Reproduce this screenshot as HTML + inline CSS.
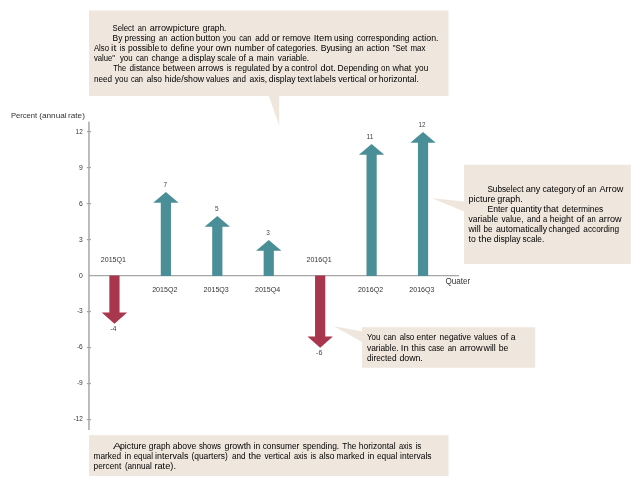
<!DOCTYPE html>
<html><head><meta charset="utf-8"><title>Arrow picture graph</title>
<style>
html,body{margin:0;padding:0;background:#fff;}
body{width:640px;height:486px;overflow:hidden;}
svg{display:block;}
text{font-family:"Liberation Sans","DejaVu Sans",sans-serif;}
.t{font-size:9.6px;fill:#000;}
.l{font-size:7.4px;fill:#333;}
.a{font-size:7.4px;fill:#333;}
.v{font-size:7.4px;fill:#444;}
</style></head><body>
<svg width="640" height="486" viewBox="0 0 640 486">
<rect width="640" height="486" fill="#fff"/>
<path d="M89 10.6H448.5V96H279.2V125.5L268.8 96H89Z" fill="#EFE6DD"/>
<path d="M464 164.7H630.8V264H464V211.5L432 198.3L464 201.5Z" fill="#EFE6DD"/>
<path d="M362 327.2H535.2V367.8H362V342L333.5 326L362 331.5Z" fill="#EFE6DD"/>
<rect x="89" y="435.2" width="359.5" height="40.8" fill="#EFE6DD"/>
<path d="M88.95 121.7V430" stroke="#BABABA" stroke-width="1.9" fill="none"/>
<path d="M88.8 275.7H459" stroke="#A6A6A6" stroke-width="1.3" fill="none"/>
<path d="M86.8 419.6H91" stroke="#A2A2A2" stroke-width="1.1" fill="none"/>
<text class="a" x="73.4" y="421.0" textLength="9.4" lengthAdjust="spacingAndGlyphs">-12</text>
<path d="M86.8 383.6H91" stroke="#A2A2A2" stroke-width="1.1" fill="none"/>
<text class="a" x="76.9" y="385.0" textLength="5.9" lengthAdjust="spacingAndGlyphs">-9</text>
<path d="M86.8 347.6H91" stroke="#A2A2A2" stroke-width="1.1" fill="none"/>
<text class="a" x="76.9" y="349.0" textLength="5.9" lengthAdjust="spacingAndGlyphs">-6</text>
<path d="M86.8 311.6H91" stroke="#A2A2A2" stroke-width="1.1" fill="none"/>
<text class="a" x="76.9" y="313.0" textLength="5.9" lengthAdjust="spacingAndGlyphs">-3</text>
<text class="a" x="79.0" y="277.7" textLength="3.8" lengthAdjust="spacingAndGlyphs">0</text>
<path d="M86.8 239.6H91" stroke="#A2A2A2" stroke-width="1.1" fill="none"/>
<text class="a" x="79.0" y="241.7" textLength="3.8" lengthAdjust="spacingAndGlyphs">3</text>
<path d="M86.8 203.6H91" stroke="#A2A2A2" stroke-width="1.1" fill="none"/>
<text class="a" x="79.0" y="205.7" textLength="3.8" lengthAdjust="spacingAndGlyphs">6</text>
<path d="M86.8 167.6H91" stroke="#A2A2A2" stroke-width="1.1" fill="none"/>
<text class="a" x="79.0" y="169.7" textLength="3.8" lengthAdjust="spacingAndGlyphs">9</text>
<path d="M86.8 131.6H91" stroke="#A2A2A2" stroke-width="1.1" fill="none"/>
<text class="a" x="75.6" y="133.7" textLength="7.2" lengthAdjust="spacingAndGlyphs">12</text>
<text class="l" y="117.8" style="font-size:8px"><tspan x="10.9" textLength="26.2" lengthAdjust="spacingAndGlyphs">Percent</tspan> <tspan x="39.2" textLength="27.4" lengthAdjust="spacingAndGlyphs">(annual</tspan> <tspan x="68" textLength="16.9" lengthAdjust="spacingAndGlyphs">rate)</tspan></text>
<text class="l" x="445.5" y="284.1" textLength="24.8" lengthAdjust="spacingAndGlyphs" style="font-size:8.5px">Quater</text>
<path d="M109.35 275.4V312.5H101.75L114.45 323.7L127.15 312.5H119.55V275.4Z" fill="#A8364C"/>
<text class="v" x="110.2" y="331.4" textLength="6.4" lengthAdjust="spacingAndGlyphs">-4</text>
<text class="l" x="100.8" y="262" textLength="25.2" lengthAdjust="spacingAndGlyphs">2015Q1</text>
<path d="M160.78 275.9V202.8H153.18L165.88 192.0L178.58 202.8H170.98V275.9Z" fill="#4A8F97"/>
<text class="v" x="163.5" y="187.0" textLength="3.6" lengthAdjust="spacingAndGlyphs">7</text>
<text class="l" x="152.2" y="292.1" textLength="25.2" lengthAdjust="spacingAndGlyphs">2015Q2</text>
<path d="M212.21 275.9V226.8H204.61L217.31 216.0L230.01 226.8H222.41V275.9Z" fill="#4A8F97"/>
<text class="v" x="214.9" y="211.0" textLength="3.6" lengthAdjust="spacingAndGlyphs">5</text>
<text class="l" x="203.6" y="292.1" textLength="25.2" lengthAdjust="spacingAndGlyphs">2015Q3</text>
<path d="M263.64 275.9V250.8H256.04L268.74 240.0L281.44 250.8H273.84V275.9Z" fill="#4A8F97"/>
<text class="v" x="266.3" y="235.0" textLength="3.6" lengthAdjust="spacingAndGlyphs">3</text>
<text class="l" x="255.0" y="292.1" textLength="25.2" lengthAdjust="spacingAndGlyphs">2015Q4</text>
<path d="M315.07 275.4V336.5H307.47L320.17 347.7L332.87 336.5H325.27V275.4Z" fill="#A8364C"/>
<text class="v" x="316.0" y="355.4" textLength="6.4" lengthAdjust="spacingAndGlyphs">-6</text>
<text class="l" x="306.5" y="262" textLength="25.2" lengthAdjust="spacingAndGlyphs">2016Q1</text>
<path d="M366.50 275.9V154.8H358.90L371.60 144.0L384.30 154.8H376.70V275.9Z" fill="#4A8F97"/>
<text class="v" x="366.4" y="139.0" textLength="7.0" lengthAdjust="spacingAndGlyphs">11</text>
<text class="l" x="357.9" y="292.1" textLength="25.2" lengthAdjust="spacingAndGlyphs">2016Q2</text>
<path d="M417.93 275.9V142.8H410.33L423.03 132.0L435.73 142.8H428.13V275.9Z" fill="#4A8F97"/>
<text class="v" x="418.5" y="127.0" textLength="7.0" lengthAdjust="spacingAndGlyphs">12</text>
<text class="l" x="409.3" y="292.1" textLength="25.2" lengthAdjust="spacingAndGlyphs">2016Q3</text>
<text class="t" y="31.0"><tspan x="112.5" textLength="21.7" lengthAdjust="spacingAndGlyphs">Select</tspan> <tspan x="137.8" textLength="8.3" lengthAdjust="spacingAndGlyphs">an</tspan> <tspan x="149.8" textLength="22.7" lengthAdjust="spacingAndGlyphs">arrow</tspan> <tspan x="172.8" textLength="26.6" lengthAdjust="spacingAndGlyphs">picture</tspan> <tspan x="202.8" textLength="23.5" lengthAdjust="spacingAndGlyphs">graph.</tspan></text>
<text class="t" y="41.0"><tspan x="112.5" textLength="9.9" lengthAdjust="spacingAndGlyphs">By</tspan> <tspan x="124.6" textLength="30.8" lengthAdjust="spacingAndGlyphs">pressing</tspan> <tspan x="159.0" textLength="8.4" lengthAdjust="spacingAndGlyphs">an</tspan> <tspan x="170.7" textLength="23.5" lengthAdjust="spacingAndGlyphs">action</tspan> <tspan x="195.7" textLength="24.5" lengthAdjust="spacingAndGlyphs">button</tspan> <tspan x="222.9" textLength="12.8" lengthAdjust="spacingAndGlyphs">you</tspan> <tspan x="239.3" textLength="12.3" lengthAdjust="spacingAndGlyphs">can</tspan> <tspan x="255.2" textLength="13.8" lengthAdjust="spacingAndGlyphs">add</tspan> <tspan x="271.5" textLength="8.3" lengthAdjust="spacingAndGlyphs">or</tspan> <tspan x="282.3" textLength="28.5" lengthAdjust="spacingAndGlyphs">remove</tspan> <tspan x="313.7" textLength="18.4" lengthAdjust="spacingAndGlyphs">Item</tspan> <tspan x="333.9" textLength="19.5" lengthAdjust="spacingAndGlyphs">using</tspan> <tspan x="356.8" textLength="52.6" lengthAdjust="spacingAndGlyphs">corresponding</tspan> <tspan x="412.6" textLength="25.9" lengthAdjust="spacingAndGlyphs">action.</tspan></text>
<text class="t" y="51.0"><tspan x="93.9" textLength="15.1" lengthAdjust="spacingAndGlyphs">Also</tspan> <tspan x="111.1" textLength="5.2" lengthAdjust="spacingAndGlyphs">it</tspan> <tspan x="119.7" textLength="5.5" lengthAdjust="spacingAndGlyphs">is</tspan> <tspan x="128.0" textLength="31.2" lengthAdjust="spacingAndGlyphs">possible</tspan> <tspan x="160.7" textLength="6.7" lengthAdjust="spacingAndGlyphs">to</tspan> <tspan x="170.7" textLength="23.5" lengthAdjust="spacingAndGlyphs">define</tspan> <tspan x="196.8" textLength="16.4" lengthAdjust="spacingAndGlyphs">your</tspan> <tspan x="215.4" textLength="16.1" lengthAdjust="spacingAndGlyphs">own</tspan> <tspan x="234.7" textLength="29.7" lengthAdjust="spacingAndGlyphs">number</tspan> <tspan x="266.9" textLength="7.6" lengthAdjust="spacingAndGlyphs">of</tspan> <tspan x="276.4" textLength="41.4" lengthAdjust="spacingAndGlyphs">categories.</tspan> <tspan x="320.7" textLength="10.0" lengthAdjust="spacingAndGlyphs">By</tspan> <tspan x="330.3" textLength="21.7" lengthAdjust="spacingAndGlyphs">using</tspan> <tspan x="354.9" textLength="8.7" lengthAdjust="spacingAndGlyphs">an</tspan> <tspan x="366.6" textLength="22.7" lengthAdjust="spacingAndGlyphs">action</tspan> <tspan x="392.7" textLength="14.6" lengthAdjust="spacingAndGlyphs">&quot;Set</tspan> <tspan x="410.5" textLength="14.9" lengthAdjust="spacingAndGlyphs">max</tspan></text>
<text class="t" y="61.0"><tspan x="93.9" textLength="21.0" lengthAdjust="spacingAndGlyphs">value&quot;</tspan> <tspan x="119.9" textLength="12.6" lengthAdjust="spacingAndGlyphs">you</tspan> <tspan x="136.1" textLength="12.1" lengthAdjust="spacingAndGlyphs">can</tspan> <tspan x="151.6" textLength="27.4" lengthAdjust="spacingAndGlyphs">change</tspan> <tspan x="182.1" textLength="5.1" lengthAdjust="spacingAndGlyphs">a</tspan> <tspan x="188.7" textLength="26.6" lengthAdjust="spacingAndGlyphs">display</tspan> <tspan x="217.2" textLength="18.9" lengthAdjust="spacingAndGlyphs">scale</tspan> <tspan x="238.6" textLength="7.4" lengthAdjust="spacingAndGlyphs">of</tspan> <tspan x="248.5" textLength="5.0" lengthAdjust="spacingAndGlyphs">a</tspan> <tspan x="256.7" textLength="17.2" lengthAdjust="spacingAndGlyphs">main</tspan> <tspan x="277.8" textLength="31.3" lengthAdjust="spacingAndGlyphs">variable.</tspan></text>
<text class="t" y="71.0"><tspan x="113.3" textLength="12.9" lengthAdjust="spacingAndGlyphs">The</tspan> <tspan x="129.5" textLength="30.7" lengthAdjust="spacingAndGlyphs">distance</tspan> <tspan x="162.8" textLength="32.5" lengthAdjust="spacingAndGlyphs">between</tspan> <tspan x="197.8" textLength="25.7" lengthAdjust="spacingAndGlyphs">arrows</tspan> <tspan x="226.7" textLength="4.8" lengthAdjust="spacingAndGlyphs">is</tspan> <tspan x="234.7" textLength="35.3" lengthAdjust="spacingAndGlyphs">regulated</tspan> <tspan x="272.2" textLength="10.4" lengthAdjust="spacingAndGlyphs">by</tspan> <tspan x="284.6" textLength="4.8" lengthAdjust="spacingAndGlyphs">a</tspan> <tspan x="291.2" textLength="25.9" lengthAdjust="spacingAndGlyphs">control</tspan> <tspan x="320.4" textLength="15.4" lengthAdjust="spacingAndGlyphs">dot.</tspan> <tspan x="337.6" textLength="40.9" lengthAdjust="spacingAndGlyphs">Depending</tspan> <tspan x="381.0" textLength="8.8" lengthAdjust="spacingAndGlyphs">on</tspan> <tspan x="392.5" textLength="18.8" lengthAdjust="spacingAndGlyphs">what</tspan> <tspan x="415.0" textLength="13.2" lengthAdjust="spacingAndGlyphs">you</tspan></text>
<text class="t" y="82.0"><tspan x="93.9" textLength="18.2" lengthAdjust="spacingAndGlyphs">need</tspan> <tspan x="115.0" textLength="13.0" lengthAdjust="spacingAndGlyphs">you</tspan> <tspan x="130.9" textLength="12.1" lengthAdjust="spacingAndGlyphs">can</tspan> <tspan x="146.7" textLength="15.3" lengthAdjust="spacingAndGlyphs">also</tspan> <tspan x="164.7" textLength="39.4" lengthAdjust="spacingAndGlyphs">hide/show</tspan> <tspan x="206.0" textLength="23.4" lengthAdjust="spacingAndGlyphs">values</tspan> <tspan x="232.7" textLength="13.3" lengthAdjust="spacingAndGlyphs">and</tspan> <tspan x="249.6" textLength="17.6" lengthAdjust="spacingAndGlyphs">axis,</tspan> <tspan x="268.7" textLength="26.9" lengthAdjust="spacingAndGlyphs">display</tspan> <tspan x="297.5" textLength="14.7" lengthAdjust="spacingAndGlyphs">text</tspan> <tspan x="313.7" textLength="22.3" lengthAdjust="spacingAndGlyphs">labels</tspan> <tspan x="338.2" textLength="27.9" lengthAdjust="spacingAndGlyphs">vertical</tspan> <tspan x="368.6" textLength="8.6" lengthAdjust="spacingAndGlyphs">or</tspan> <tspan x="378.8" textLength="40.0" lengthAdjust="spacingAndGlyphs">horizontal.</tspan></text>
<text class="t" y="192.0"><tspan x="487.4" textLength="36.1" lengthAdjust="spacingAndGlyphs">Subselect</tspan> <tspan x="525.7" textLength="14.7" lengthAdjust="spacingAndGlyphs">any</tspan> <tspan x="542.5" textLength="33.0" lengthAdjust="spacingAndGlyphs">category</tspan> <tspan x="577.0" textLength="8.0" lengthAdjust="spacingAndGlyphs">of</tspan> <tspan x="587.5" textLength="8.8" lengthAdjust="spacingAndGlyphs">an</tspan> <tspan x="599.5" textLength="23.8" lengthAdjust="spacingAndGlyphs">Arrow</tspan></text>
<text class="t" y="202.0"><tspan x="468.5" textLength="26.9" lengthAdjust="spacingAndGlyphs">picture</tspan> <tspan x="497.3" textLength="25.5" lengthAdjust="spacingAndGlyphs">graph.</tspan></text>
<text class="t" y="212.0"><tspan x="487.4" textLength="20.6" lengthAdjust="spacingAndGlyphs">Enter</tspan> <tspan x="510.6" textLength="31.2" lengthAdjust="spacingAndGlyphs">quantity</tspan> <tspan x="543.5" textLength="15.1" lengthAdjust="spacingAndGlyphs">that</tspan> <tspan x="561.9" textLength="41.4" lengthAdjust="spacingAndGlyphs">determines</tspan></text>
<text class="t" y="222.0"><tspan x="468.5" textLength="29.7" lengthAdjust="spacingAndGlyphs">variable</tspan> <tspan x="501.5" textLength="22.0" lengthAdjust="spacingAndGlyphs">value,</tspan> <tspan x="527.1" textLength="13.3" lengthAdjust="spacingAndGlyphs">and</tspan> <tspan x="543.1" textLength="4.2" lengthAdjust="spacingAndGlyphs">a</tspan> <tspan x="549.7" textLength="23.6" lengthAdjust="spacingAndGlyphs">height</tspan> <tspan x="576.3" textLength="8.0" lengthAdjust="spacingAndGlyphs">of</tspan> <tspan x="587.2" textLength="8.4" lengthAdjust="spacingAndGlyphs">an</tspan> <tspan x="598.8" textLength="22.8" lengthAdjust="spacingAndGlyphs">arrow</tspan></text>
<text class="t" y="232.0"><tspan x="468.5" textLength="12.1" lengthAdjust="spacingAndGlyphs">will</tspan> <tspan x="483.5" textLength="9.0" lengthAdjust="spacingAndGlyphs">be</tspan> <tspan x="495.9" textLength="51.3" lengthAdjust="spacingAndGlyphs">automatically</tspan> <tspan x="548.5" textLength="31.4" lengthAdjust="spacingAndGlyphs">changed</tspan> <tspan x="583.3" textLength="35.8" lengthAdjust="spacingAndGlyphs">according</tspan></text>
<text class="t" y="242.0"><tspan x="468.5" textLength="7.2" lengthAdjust="spacingAndGlyphs">to</tspan> <tspan x="478.6" textLength="13.0" lengthAdjust="spacingAndGlyphs">the</tspan> <tspan x="493.8" textLength="26.9" lengthAdjust="spacingAndGlyphs">display</tspan> <tspan x="522.6" textLength="21.7" lengthAdjust="spacingAndGlyphs">scale.</tspan></text>
<text class="t" y="340.0"><tspan x="367.0" textLength="13.3" lengthAdjust="spacingAndGlyphs">You</tspan> <tspan x="383.5" textLength="12.6" lengthAdjust="spacingAndGlyphs">can</tspan> <tspan x="399.7" textLength="14.6" lengthAdjust="spacingAndGlyphs">also</tspan> <tspan x="416.6" textLength="19.5" lengthAdjust="spacingAndGlyphs">enter</tspan> <tspan x="439.6" textLength="31.6" lengthAdjust="spacingAndGlyphs">negative</tspan> <tspan x="474.1" textLength="23.1" lengthAdjust="spacingAndGlyphs">values</tspan> <tspan x="500.5" textLength="7.7" lengthAdjust="spacingAndGlyphs">of</tspan> <tspan x="510.7" textLength="4.8" lengthAdjust="spacingAndGlyphs">a</tspan></text>
<text class="t" y="351.0"><tspan x="367.0" textLength="31.6" lengthAdjust="spacingAndGlyphs">variable.</tspan> <tspan x="400.8" textLength="7.9" lengthAdjust="spacingAndGlyphs">In</tspan> <tspan x="411.6" textLength="13.7" lengthAdjust="spacingAndGlyphs">this</tspan> <tspan x="428.2" textLength="16.1" lengthAdjust="spacingAndGlyphs">case</tspan> <tspan x="447.7" textLength="8.7" lengthAdjust="spacingAndGlyphs">an</tspan> <tspan x="459.7" textLength="22.8" lengthAdjust="spacingAndGlyphs">arrow</tspan> <tspan x="483.5" textLength="12.3" lengthAdjust="spacingAndGlyphs">will</tspan> <tspan x="498.7" textLength="9.7" lengthAdjust="spacingAndGlyphs">be</tspan></text>
<text class="t" y="361.0"><tspan x="367.0" textLength="29.5" lengthAdjust="spacingAndGlyphs">directed</tspan> <tspan x="399.4" textLength="23.4" lengthAdjust="spacingAndGlyphs">down.</tspan></text>
<text class="t" y="449.0"><tspan x="112.9" textLength="7.6" lengthAdjust="spacingAndGlyphs">A</tspan> <tspan x="120.0" textLength="26.3" lengthAdjust="spacingAndGlyphs">picture</tspan> <tspan x="148.8" textLength="21.4" lengthAdjust="spacingAndGlyphs">graph</tspan> <tspan x="172.8" textLength="23.4" lengthAdjust="spacingAndGlyphs">above</tspan> <tspan x="198.9" textLength="22.0" lengthAdjust="spacingAndGlyphs">shows</tspan> <tspan x="224.5" textLength="26.5" lengthAdjust="spacingAndGlyphs">growth</tspan> <tspan x="253.5" textLength="6.6" lengthAdjust="spacingAndGlyphs">in</tspan> <tspan x="262.7" textLength="36.6" lengthAdjust="spacingAndGlyphs">consumer</tspan> <tspan x="302.7" textLength="36.5" lengthAdjust="spacingAndGlyphs">spending.</tspan> <tspan x="342.2" textLength="14.2" lengthAdjust="spacingAndGlyphs">The</tspan> <tspan x="358.8" textLength="36.8" lengthAdjust="spacingAndGlyphs">horizontal</tspan> <tspan x="398.9" textLength="13.3" lengthAdjust="spacingAndGlyphs">axis</tspan> <tspan x="415.5" textLength="5.8" lengthAdjust="spacingAndGlyphs">is</tspan></text>
<text class="t" y="459.0"><tspan x="93.6" textLength="27.6" lengthAdjust="spacingAndGlyphs">marked</tspan> <tspan x="124.6" textLength="6.5" lengthAdjust="spacingAndGlyphs">in</tspan> <tspan x="133.7" textLength="19.2" lengthAdjust="spacingAndGlyphs">equal</tspan> <tspan x="155.1" textLength="33.4" lengthAdjust="spacingAndGlyphs">intervals</tspan> <tspan x="191.4" textLength="36.5" lengthAdjust="spacingAndGlyphs">(quarters)</tspan> <tspan x="231.9" textLength="13.6" lengthAdjust="spacingAndGlyphs">and</tspan> <tspan x="248.5" textLength="12.7" lengthAdjust="spacingAndGlyphs">the</tspan> <tspan x="264.4" textLength="25.9" lengthAdjust="spacingAndGlyphs">vertical</tspan> <tspan x="293.9" textLength="13.3" lengthAdjust="spacingAndGlyphs">axis</tspan> <tspan x="310.5" textLength="5.6" lengthAdjust="spacingAndGlyphs">is</tspan> <tspan x="319.0" textLength="15.5" lengthAdjust="spacingAndGlyphs">also</tspan> <tspan x="336.6" textLength="27.7" lengthAdjust="spacingAndGlyphs">marked</tspan> <tspan x="367.7" textLength="6.7" lengthAdjust="spacingAndGlyphs">in</tspan> <tspan x="376.9" textLength="20.5" lengthAdjust="spacingAndGlyphs">equal</tspan> <tspan x="400.1" textLength="31.5" lengthAdjust="spacingAndGlyphs">intervals</tspan></text>
<text class="t" y="469.0"><tspan x="93.6" textLength="27.6" lengthAdjust="spacingAndGlyphs">percent</tspan> <tspan x="124.9" textLength="27.0" lengthAdjust="spacingAndGlyphs">(annual</tspan> <tspan x="154.4" textLength="21.6" lengthAdjust="spacingAndGlyphs">rate).</tspan></text>
</svg>
</body></html>
